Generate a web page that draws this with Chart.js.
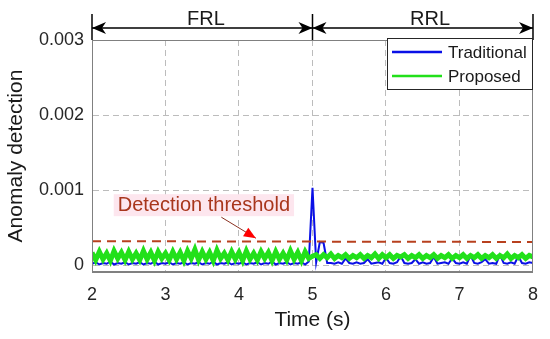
<!DOCTYPE html>
<html>
<head>
<meta charset="utf-8">
<script src="https://cdn.jsdelivr.net/npm/chart.js@4.4.0/dist/chart.umd.min.js"></script>
<style>
  html, body { margin: 0; padding: 0; background: #fff; }
  #wrap { width: 550px; height: 339px; }
</style>
</head>
<body>
<div id="wrap"><canvas id="myChart" width="550" height="339"></canvas></div>
<script>
// sample times (s)
var times = [
  2.00,2.05,2.10,2.15,2.20,2.25,2.30,2.35,2.40,2.45,
  2.50,2.55,2.60,2.65,2.70,2.75,2.80,2.85,2.90,2.95,
  3.00,3.05,3.10,3.15,3.20,3.25,3.30,3.35,3.40,3.45,
  3.50,3.55,3.60,3.65,3.70,3.75,3.80,3.85,3.90,3.95,
  4.00,4.05,4.10,4.15,4.20,4.25,4.30,4.35,4.40,4.45,
  4.50,4.55,4.60,4.65,4.70,4.75,4.80,4.85,4.90,4.95,
  5.00,5.05,5.10,5.15,5.20,5.25,5.30,5.35,5.40,5.45,
  5.50,5.55,5.60,5.65,5.70,5.75,5.80,5.85,5.90,5.95,
  6.00,6.05,6.10,6.15,6.20,6.25,6.30,6.35,6.40,6.45,
  6.50,6.55,6.60,6.65,6.70,6.75,6.80,6.85,6.90,6.95,
  7.00,7.05,7.10,7.15,7.20,7.25,7.30,7.35,7.40,7.45,
  7.50,7.55,7.60,7.65,7.70,7.75,7.80,7.85,7.90,7.95,
  8.00
];

var traditional = [
  2e-5,4e-5,1e-5,3e-5,2e-5,5e-5,1e-5,3e-5,2e-5,4e-5,
  1e-5,3e-5,2e-5,4e-5,1e-5,3e-5,2e-5,5e-5,1e-5,3e-5,
  2e-5,4e-5,1e-5,3e-5,2e-5,4e-5,1e-5,3e-5,2e-5,4e-5,
  1e-5,3e-5,2e-5,5e-5,1e-5,3e-5,2e-5,4e-5,1e-5,3e-5,
  2e-5,4e-5,1e-5,3e-5,2e-5,4e-5,1e-5,3e-5,2e-5,5e-5,
  1e-5,3e-5,2e-5,4e-5,1e-5,3e-5,2e-5,4e-5,1e-5,5e-5,
  103e-5,4e-5,31e-5,30e-5,3e-5,3e-5,2e-5,4e-5,2e-5,9e-5,
  3e-5,2e-5,4e-5,2e-5,3e-5,8e-5,2e-5,3e-5,4e-5,2e-5,
  10e-5,3e-5,2e-5,4e-5,12e-5,3e-5,2e-5,3e-5,8e-5,2e-5,
  4e-5,2e-5,3e-5,11e-5,2e-5,3e-5,4e-5,2e-5,9e-5,3e-5,
  2e-5,4e-5,2e-5,13e-5,3e-5,2e-5,4e-5,8e-5,2e-5,3e-5,
  2e-5,14e-5,3e-5,2e-5,4e-5,2e-5,12e-5,3e-5,2e-5,4e-5,
  3e-5
];

var proposed = [
  17e-5,7e-5,18e-5,8e-5,16e-5,6e-5,19e-5,9e-5,17e-5,7e-5,
  18e-5,8e-5,16e-5,7e-5,19e-5,8e-5,17e-5,6e-5,18e-5,9e-5,
  16e-5,7e-5,18e-5,8e-5,17e-5,6e-5,19e-5,9e-5,21e-5,7e-5,
  18e-5,8e-5,17e-5,6e-5,20e-5,9e-5,16e-5,7e-5,18e-5,8e-5,
  17e-5,6e-5,19e-5,8e-5,16e-5,7e-5,18e-5,9e-5,17e-5,6e-5,
  18e-5,8e-5,16e-5,7e-5,19e-5,8e-5,17e-5,6e-5,18e-5,9e-5,
  12e-5,14e-5,9e-5,14e-5,10e-5,15e-5,9e-5,13e-5,10e-5,14e-5,
  9e-5,13e-5,10e-5,14e-5,9e-5,13e-5,10e-5,15e-5,9e-5,14e-5,
  10e-5,14e-5,9e-5,13e-5,11e-5,14e-5,9e-5,13e-5,10e-5,14e-5,
  9e-5,13e-5,10e-5,14e-5,9e-5,13e-5,10e-5,14e-5,9e-5,13e-5,
  10e-5,14e-5,9e-5,13e-5,10e-5,14e-5,9e-5,13e-5,10e-5,14e-5,
  9e-5,13e-5,10e-5,15e-5,9e-5,13e-5,10e-5,14e-5,9e-5,13e-5,
  11e-5
];

var thresholdTimes = [2, 8];
var thresholdValues = [0.00032, 0.00031];

var xTicks = [2, 3, 4, 5, 6, 7, 8];
var yTicks = [0, 0.001, 0.002, 0.003];
var legendNames = ['Traditional', 'Proposed'];

var FONT = '"Liberation Sans", Arial, sans-serif';
var BLUE = '#0a10e6';
var GREEN = '#22e01a';
var THR = '#b8401e';

function pts(xs, ys) {
  return xs.map(function(x, i) { return {x: x, y: ys[i]}; });
}

// header arrows, threshold label, legend box
var extras = {
  id: 'extras',
  afterDraw: function(chart) {
    var c = chart.ctx;
    var xs = chart.scales.x, ys = chart.scales.y;
    var a = chart.chartArea;
    var x2 = xs.getPixelForValue(2), x5 = xs.getPixelForValue(5), x8 = xs.getPixelForValue(8);
    var ay = 28;
    c.save();
    c.strokeStyle = '#000';
    c.fillStyle = '#000';
    c.lineWidth = 1.5;
    [x2, x5, x8].forEach(function(x) {
      c.beginPath(); c.moveTo(x, 14); c.lineTo(x, a.top); c.stroke();
    });
    function head(x, dir) {
      c.beginPath();
      c.moveTo(x, ay);
      c.lineTo(x - dir * 14, ay - 6);
      c.lineTo(x - dir * 10, ay);
      c.lineTo(x - dir * 14, ay + 6);
      c.closePath(); c.fill();
    }
    c.beginPath(); c.moveTo(x2, ay); c.lineTo(x5, ay); c.moveTo(x5, ay); c.lineTo(x8, ay); c.stroke();
    head(x2, -1); head(x5, 1); head(x5, -1); head(x8, 1);
    c.font = '20px ' + FONT;
    c.textAlign = 'center';
    c.textBaseline = 'middle';
    c.fillStyle = '#1a1a1a';
    c.fillText('FRL', 206, 19);
    c.fillText('RRL', 430, 19);

    // threshold label
    var tx = xs.getPixelForValue(2.35), ty = ys.getPixelForValue(0.0008);
    c.font = '20px ' + FONT;
    c.textAlign = 'left';
    var w = c.measureText('Detection threshold').width;
    c.fillStyle = '#fde6ee';
    c.fillRect(tx - 4, ty - 11, w + 8, 22);
    c.fillStyle = '#a8361c';
    c.fillText('Detection threshold', tx, ty);
    // pointer arrow
    var sx = xs.getPixelForValue(3.76), sy = ys.getPixelForValue(0.00064);
    var ex = xs.getPixelForValue(4.23), ey = ys.getPixelForValue(0.00036);
    c.strokeStyle = '#8a3020';
    c.lineWidth = 1;
    c.beginPath(); c.moveTo(sx, sy); c.lineTo(ex, ey); c.stroke();
    var ang = Math.atan2(ey - sy, ex - sx);
    c.fillStyle = '#ff0000';
    c.beginPath();
    c.moveTo(ex, ey);
    c.lineTo(ex - 12 * Math.cos(ang) + 5 * Math.sin(ang), ey - 12 * Math.sin(ang) - 5 * Math.cos(ang));
    c.lineTo(ex - 12 * Math.cos(ang) - 5 * Math.sin(ang), ey - 12 * Math.sin(ang) + 5 * Math.cos(ang));
    c.closePath(); c.fill();

    // legend
    var lx = 387, ly = a.top - 2, lw = a.right - lx, lh = 52;
    c.fillStyle = '#fff';
    c.fillRect(lx, ly, lw, lh);
    c.strokeStyle = '#262626';
    c.lineWidth = 1;
    c.strokeRect(lx + 0.5, ly + 0.5, lw - 1, lh - 1);
    var cols = [BLUE, GREEN];
    c.font = '17px ' + FONT;
    legendNames.forEach(function(n, i) {
      var yy = ly + 14 + i * 24;
      c.strokeStyle = cols[i];
      c.lineWidth = 2.5;
      c.beginPath(); c.moveTo(392, yy); c.lineTo(442, yy); c.stroke();
      c.fillStyle = '#1a1a1a';
      c.fillText(n, 448, yy + 1);
    });
    c.restore();
  }
};

var ctx = document.getElementById('myChart');
var myChart = new Chart(ctx, {
  type: 'line',
  data: {
    datasets: [{
      label: 'Detection threshold',
      data: pts(thresholdTimes, thresholdValues),
      borderColor: THR,
      borderWidth: 2,
      borderDash: [9, 6],
      order: 0
    }, {
      label: legendNames[1],
      data: pts(times, proposed),
      borderColor: GREEN,
      borderWidth: 5,
      order: 1
    }, {
      label: legendNames[0],
      data: pts(times, traditional),
      borderColor: BLUE,
      borderWidth: 2,
      order: 2
    }]
  },
  options: {
    responsive: false,
    animation: false,
    devicePixelRatio: 1,
    layout: { padding: { top: 40, right: 12, left: 0, bottom: 0 } },
    elements: { point: { radius: 0 }, line: { tension: 0 } },
    plugins: { legend: { display: false }, tooltip: { enabled: false } },
    scales: {
      x: {
        type: 'linear',
        min: 2, max: 8,
        afterBuildTicks: function(s) { s.ticks = xTicks.map(function(v) { return {value: v}; }); },
        afterFit: function(s) { s.height = 67; },
        border: { display: true, color: '#808080', width: 1, dash: [6, 4] },
        grid: { color: '#bcbcbc', drawTicks: false, lineWidth: 1 },
        ticks: { color: '#262626', font: { family: FONT, size: 18 }, padding: 12, maxRotation: 0 },
        title: { display: true, text: 'Time (s)', color: '#1a1a1a', font: { family: FONT, size: 21 }, padding: { top: 0, bottom: 6 } }
      },
      y: {
        min: -0.00009, max: 0.003,
        afterBuildTicks: function(s) { s.ticks = yTicks.map(function(v) { return {value: v}; }); },
        afterFit: function(s) { s.width = 92; },
        border: { display: true, color: '#808080', width: 1, dash: [6, 4] },
        grid: { color: '#bcbcbc', drawTicks: false, lineWidth: 1 },
        ticks: {
          color: '#262626', font: { family: FONT, size: 18 }, padding: 8,
          callback: function(v) { return v === 0 ? '0' : String(v); }
        },
        title: { display: true, text: 'Anomaly detection', color: '#1a1a1a', font: { family: FONT, size: 21 }, padding: { top: 4, bottom: 0 } }
      }
    }
  },
  plugins: [{
    id: 'box',
    afterDatasetsDraw: function(chart) {
      var c = chart.ctx, a = chart.chartArea;
      c.save();
      c.strokeStyle = '#808080';
      c.lineWidth = 1;
      c.strokeRect(a.left + 0.5, a.top + 0.5, a.right - a.left - 1, a.bottom - a.top - 1);
      c.restore();
    }
  }, extras]
});
</script>
</body>
</html>
